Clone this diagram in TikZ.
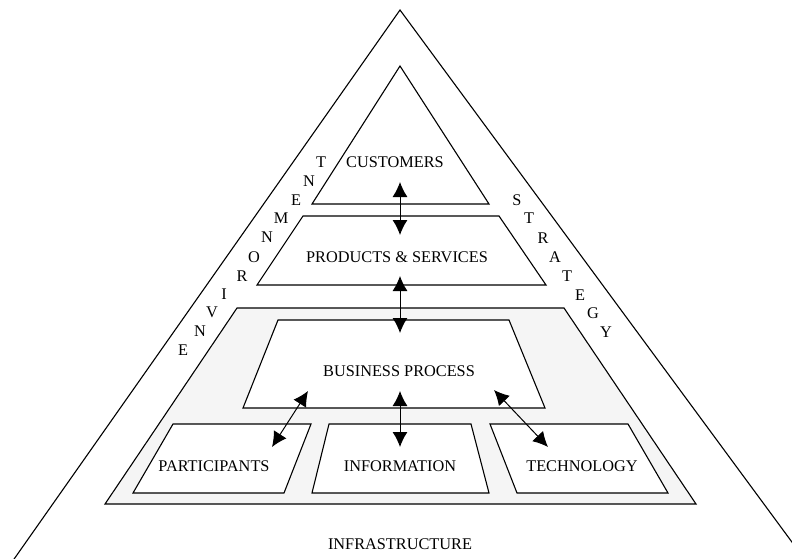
\documentclass[tikz,border=0pt]{standalone}
\usepackage{fontspec}
\setmainfont{Liberation Serif}
\usetikzlibrary{arrows.meta}
\begin{document}
\begin{tikzpicture}[x=1pt,y=-1pt,
  outline/.style={draw=black,line width=1.1pt,line join=miter},
  panel/.style={outline,fill=white},
  base/.style={outline,fill=black!4},
  caption/.style={font=\fontsize{16.3}{19}\selectfont,inner sep=0pt},
  letter/.style={font=\fontsize{16.3}{19}\selectfont,inner sep=0pt},
  link/.style={{Latex[length=15pt,width=15pt]}-{Latex[length=15pt,width=15pt]},line width=1pt}]
\useasboundingbox (0,0) rectangle (792,559);

% outer triangle, open at the bottom
\begin{scope}
  \clip (0,0) rectangle (792,559);
  \draw[outline] (12,562) -- (400,10) -- (800,553);
\end{scope}

% shapes
\draw[panel] (400,66) -- (489,204) -- (312,204) -- cycle;
\draw[panel] (303,216) -- (499,216) -- (546,285) -- (257,285) -- cycle;
\draw[base]  (237,308) -- (564,308) -- (696,504) -- (105,504) -- cycle;
\draw[panel] (278,320) -- (509,320) -- (545,408) -- (243,408) -- cycle;
\draw[panel] (173,424) -- (311,424) -- (284,493) -- (133,493) -- cycle;
\draw[panel] (329,424) -- (471,424) -- (489,493) -- (312,493) -- cycle;
\draw[panel] (490,424) -- (628,424) -- (668,493) -- (517,493) -- cycle;

% captions
\node[caption] (customers) at (395,162) {CUSTOMERS};
\node[caption] (products) at (397,257) {PRODUCTS \& SERVICES};
\node[caption] (business) at (399,371) {BUSINESS PROCESS};
\node[caption] (participants) at (214,466) {PARTICIPANTS};
\node[caption] (information) at (400,466) {INFORMATION};
\node[caption] (technology) at (582,466) {TECHNOLOGY};
\node[caption] (infrastructure) at (400,544) {INFRASTRUCTURE};

% ENVIRONMENT along the left side
\foreach \ch/\px/\py [count=\i] in {E/183/350,N/200/331,V/212/312,I/224/294,R/242/276,O/254/257,N/267/237,M/281/218,E/296/200,N/309/181,T/321/162}
  \node[letter] (env\i) at (\px,\py) {\ch};

% STRATEGY along the right side
\foreach \ch/\px/\py [count=\i] in {S/517/200,T/529/218,R/543/238,A/555/257,T/567/276,E/580/295,G/593/313,Y/606/332}
  \node[letter] (str\i) at (\px,\py) {\ch};

% arrow end points
\coordinate (cu-p) at (400,182);
\coordinate (pr-c) at (400,235);
\coordinate (pr-b) at (400,276);
\coordinate (bu-p) at (400,333);
\coordinate (bu-i) at (400,391);
\coordinate (in-b) at (400,447);
\coordinate (bu-pa) at (308,391);
\coordinate (pa-b) at (272,447);
\coordinate (bu-t) at (494,390);
\coordinate (te-b) at (548,447);

% connectors
\draw[link] (cu-p) -- (pr-c);
\draw[link] (pr-b) -- (bu-p);
\draw[link] (bu-i) -- (in-b);
\draw[link] (bu-pa) -- (pa-b);
\draw[link] (bu-t) -- (te-b);
\end{tikzpicture}
\end{document}
